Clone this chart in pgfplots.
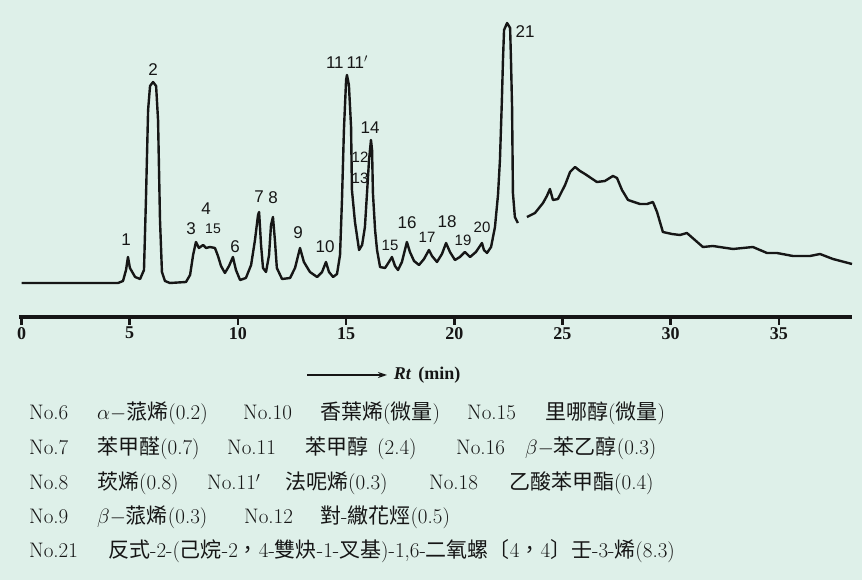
\documentclass[border=0pt]{standalone}
\usepackage{fontspec}
\usepackage{pgfplots}
\pgfplotsset{compat=1.18}
\usetikzlibrary{arrows.meta}
\newfontfamily\cjk{Noto Sans CJK TC}
\newfontfamily\tickfont{Liberation Serif}
\newfontfamily\handfont{Liberation Sans}
\definecolor{bg}{RGB}{222,240,233}
\definecolor{ink}{RGB}{22,22,22}
\newcommand{\C}[1]{{\cjk #1}}
\begin{document}
\begin{tikzpicture}[x=1pt,y=1pt]
\fill[bg] (0pt,0pt) rectangle (862pt,580pt);
\useasboundingbox (0pt,0pt) rectangle (862pt,580pt);
\begin{axis}[
  at={(19pt,263pt)}, anchor=south west, scale only axis,
  width=833pt, height=317pt,
  xmin=-0.116, xmax=38.38, ymin=0, ymax=317,
  axis x line=bottom, axis y line=none,
  x axis line style={-, line width=3.5pt, ink},
  xtick={0,5,...,35}, xtick align=outside, major tick length=8pt,
  xtick style={line width=2.5pt, ink},
  xticklabel style={font=\tickfont\bfseries\fontsize{18}{18}\selectfont, text=ink, inner sep=2pt},
  /pgf/number format/assume math mode=true,
  xlabel={\textbf{\textit{Rt}}\hspace{7pt}\textbf{(min)}},
  xlabel style={font=\tickfont\fontsize{18}{18}\selectfont, text=ink, at={(axis description cs:0.49,-0.183)}, anchor=center},
  clip=false,
]
\addplot[ink, line width=2.4pt, line join=round, no marks] coordinates {
(0.00,34) (4.46,34) (4.69,36) (4.83,47) (4.92,60) (5.01,49) (5.25,40) (5.48,38)
(5.66,47) (5.75,117) (5.85,207) (5.94,231) (6.08,235) (6.22,231) (6.31,197) (6.40,97)
(6.49,45) (6.63,36) (6.86,34) (7.60,35) (7.79,42) (7.93,62) (8.06,75) (8.20,69)
(8.39,72) (8.53,69) (8.71,70) (8.94,69) (9.08,61) (9.22,51) (9.40,44) (9.59,51)
(9.77,60) (9.91,47) (10.10,37) (10.37,39) (10.61,52) (10.79,77) (10.93,102) (10.98,105)
(11.07,72) (11.16,49) (11.30,45) (11.44,62) (11.53,92) (11.62,100) (11.71,77) (11.80,49)
(12.04,38) (12.41,39) (12.64,49) (12.87,69) (13.05,55) (13.33,45) (13.66,40) (13.89,45)
(14.07,55) (14.21,45) (14.40,40) (14.58,43) (14.72,62) (14.81,117) (14.90,187) (15.00,237)
(15.04,242) (15.13,232) (15.23,190) (15.27,127) (15.41,95) (15.60,67) (15.74,72) (15.87,90)
(15.97,125) (16.06,157) (16.15,177) (16.20,167) (16.24,124) (16.34,87) (16.43,67) (16.57,50)
(16.80,49) (16.98,55) (17.12,60) (17.26,51) (17.40,47) (17.58,55) (17.81,75) (17.95,65)
(18.14,56) (18.37,52) (18.60,58) (18.83,67) (18.97,61) (19.20,55) (19.43,63) (19.62,74)
(19.80,65) (20.03,57) (20.26,60) (20.49,65) (20.73,60) (21.00,65) (21.28,74) (21.37,67)
(21.51,64) (21.70,70) (21.88,90) (22.02,122) (22.11,157) (22.20,217) (22.25,257) (22.30,287)
(22.44,294) (22.58,289) (22.62,257) (22.67,210) (22.71,124) (22.80,100) (22.94,94)
};
\addplot[ink, line width=2.4pt, line join=round, no marks] coordinates {
(23.36,100) (23.73,104) (24.10,114) (24.28,121) (24.42,128) (24.56,117) (24.79,118) (25.12,132)
(25.35,145) (25.58,150) (25.81,146) (26.04,143) (26.59,135) (26.96,136) (27.33,141) (27.52,139)
(27.75,127) (28.03,117) (28.58,113) (28.91,113) (29.18,115) (29.37,105) (29.64,85) (30.06,83)
(30.43,82) (30.75,84) (31.12,77) (31.49,70) (31.95,71) (32.88,68) (33.80,70) (34.45,64)
(34.91,64) (35.65,61) (36.44,61) (36.90,63) (37.50,58) (38.38,53)
};
\end{axis}
\draw[ink, line width=1.3pt, -{Stealth[length=9pt,width=6pt]}] (307pt,205pt) -- (387pt,205pt);
% peak labels
\begin{scope}[every node/.style={font=\handfont\fontsize{17}{17}\selectfont, text=ink, inner sep=0}]
\node at (126pt,340pt) {1};
\node at (153pt,510pt) {2};
\node at (191pt,351pt) {3};
\node at (206pt,371pt) {4};
\node[font=\handfont\fontsize{14}{14}\selectfont] at (213pt,351pt) {15};
\node at (235pt,333pt) {6};
\node at (259pt,383pt) {7};
\node at (273pt,382pt) {8};
\node at (298pt,347pt) {9};
\node at (325pt,333pt) {10};
\node at (347pt,518pt) {11\,11$'$};
\node[font=\handfont\fontsize{15}{15}\selectfont] at (360pt,423pt) {12};
\node[font=\handfont\fontsize{15}{15}\selectfont] at (360pt,402pt) {13};
\node at (370pt,452pt) {14};
\node[font=\handfont\fontsize{15}{15}\selectfont] at (390pt,335pt) {15};
\node at (407pt,357pt) {16};
\node[font=\handfont\fontsize{15}{15}\selectfont] at (427pt,343pt) {17};
\node at (447pt,358pt) {18};
\node[font=\handfont\fontsize{15}{15}\selectfont] at (463pt,340pt) {19};
\node[font=\handfont\fontsize{15}{15}\selectfont] at (482pt,353pt) {20};
\node at (525pt,548pt) {21};
\end{scope}
% compound list
\begin{scope}[every node/.style={anchor=base west, inner sep=0, text=ink, font=\fontsize{21}{21}\selectfont}]
\node at (29pt,160pt) {No.6};
\node at (97pt,160pt) {$\alpha-$\C{蒎烯}(0.2)};
\node at (243pt,160pt) {No.10};
\node at (320pt,160pt) {\C{香葉烯}(\C{微量})};
\node at (467pt,160pt) {No.15};
\node at (545pt,160pt) {\C{里哪醇}(\C{微量})};
\node at (29pt,125pt) {No.7};
\node at (97pt,125pt) {\C{苯甲醛}(0.7)};
\node at (227pt,125pt) {No.11};
\node at (305pt,125pt) {\C{苯甲醇}\hspace{9pt}(2.4)};
\node at (456pt,125pt) {No.16};
\node at (525pt,125pt) {$\beta-$\C{苯乙醇}(0.3)};
\node at (29pt,90pt) {No.8};
\node at (97pt,90pt) {\C{莰烯}(0.8)};
\node at (207pt,90pt) {No.11$'$};
\node at (285pt,90pt) {\C{法呢烯}(0.3)};
\node at (429pt,90pt) {No.18};
\node at (509pt,90pt) {\C{乙酸苯甲酯}(0.4)};
\node at (29pt,56pt) {No.9};
\node at (97pt,56pt) {$\beta-$\C{蒎烯}(0.3)};
\node at (244pt,56pt) {No.12};
\node at (320pt,56pt) {\C{對}-\C{繖花烴}(0.5)};
\node at (29pt,22pt) {No.21};
\node at (108pt,22pt) {\C{反式}-2-(\C{己烷}-2\C{，}4-\C{雙炔}-1-\C{叉基})-1,6-\C{二氧螺}\C{〔}4\C{，}4\C{〕}\C{壬}-3-\C{烯}(8.3)};
\end{scope}
\end{tikzpicture}
\end{document}
